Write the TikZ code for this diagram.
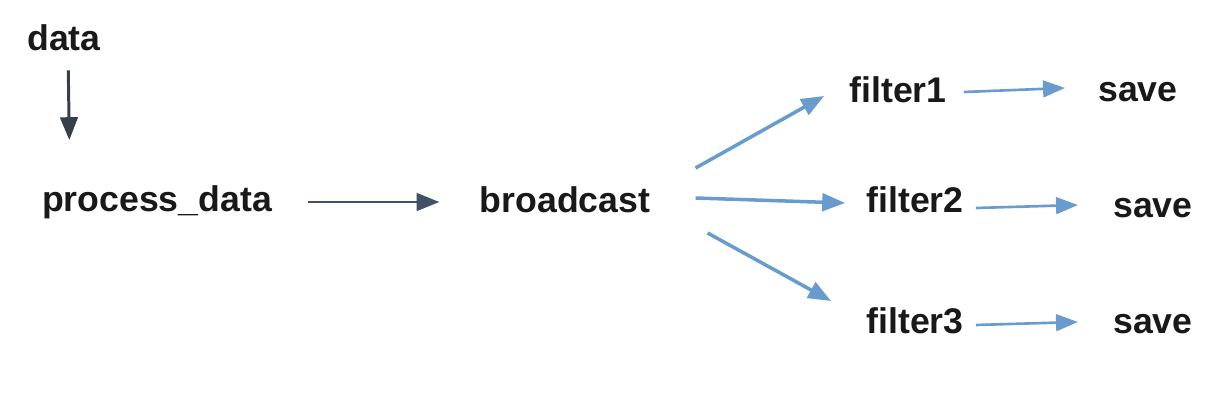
\documentclass[tikz,border=0pt]{standalone}
\usepackage{fontspec}
\setmainfont{Liberation Sans}
\usepackage{tikz}
\usetikzlibrary{arrows.meta}
\definecolor{flowblue}{RGB}{104,156,206}
\definecolor{flowdark}{RGB}{55,63,76}
\tikzstyle{word} = [inner sep=0pt, text=black!90,
font=\fontsize{20.3}{24}\selectfont\bfseries]
\tikzstyle{darr} = [draw=flowdark, line width=1.7pt,
-{Triangle[length=13pt,width=10pt]}]
\tikzstyle{barr} = [draw=flowblue, line width=2pt,
-{Triangle[length=13pt,width=10pt]}]
\tikzstyle{sarr} = [draw=flowblue, line width=1.5pt,
-{Triangle[length=12.5pt,width=9.5pt]}]

\begin{document}
\begin{tikzpicture}[x=0.02cm,y=-0.02cm]
	\useasboundingbox (0,0) rectangle (1228,402);
	\node[word] (data) at (64,38) {data} ; %
	\node[word] (proc) at (157,202) {process\_data} ; %
	\node[word] (bc) at (565,200) {broadcast} ; %

	\node[word] (f1) at (898,90) {filter1} ; %
	\node[word] (f2) at (915,200) {filter2} ; %
	\node[word] (f3) at (915,321) {filter3} ; %

	\node[word] (s1) at (1138,92) {save} ; %
	\node[word] (s2) at (1153,208) {save} ; %
	\node[word] (s3) at (1153,324) {save} ; %

	\draw[darr, shorten <=0.38cm, shorten >=0.9cm] ([xshift=0.08cm]data.south)
		-- ([xshift=0.12cm]data.south |- proc.north) ;
	\draw[darr, draw=flowdark!80!flowblue] ([xshift=0.72cm]proc.east)
		-- ([xshift=-0.8cm]proc.east -| bc.west) ;

	\draw[barr] ([xshift=0.9cm,yshift=0.64cm]bc.east) -- ([xshift=-0.5cm,yshift=-0.12cm]f1.west) ;
	\draw[barr] ([xshift=0.9cm,yshift=0.04cm]bc.east) -- ([xshift=-0.42cm,yshift=-0.06cm]f2.west) ;
	\draw[barr] ([xshift=1.14cm,yshift=-0.66cm]bc.east) -- ([xshift=-0.7cm,yshift=0.4cm]f3.west) ;

	\draw[sarr] ([xshift=0.34cm,yshift=-0.04cm]f1.east) -- ([xshift=-0.66cm,yshift=0.08cm]s1.west) ;
	\draw[sarr] ([xshift=0.24cm,yshift=-0.16cm]f2.east) -- ([xshift=-0.7cm,yshift=0.06cm]s2.west) ;
	\draw[sarr] ([xshift=0.24cm,yshift=-0.08cm]f3.east) -- ([xshift=-0.7cm,yshift=0.04cm]s3.west) ;
\end{tikzpicture}
\end{document}
